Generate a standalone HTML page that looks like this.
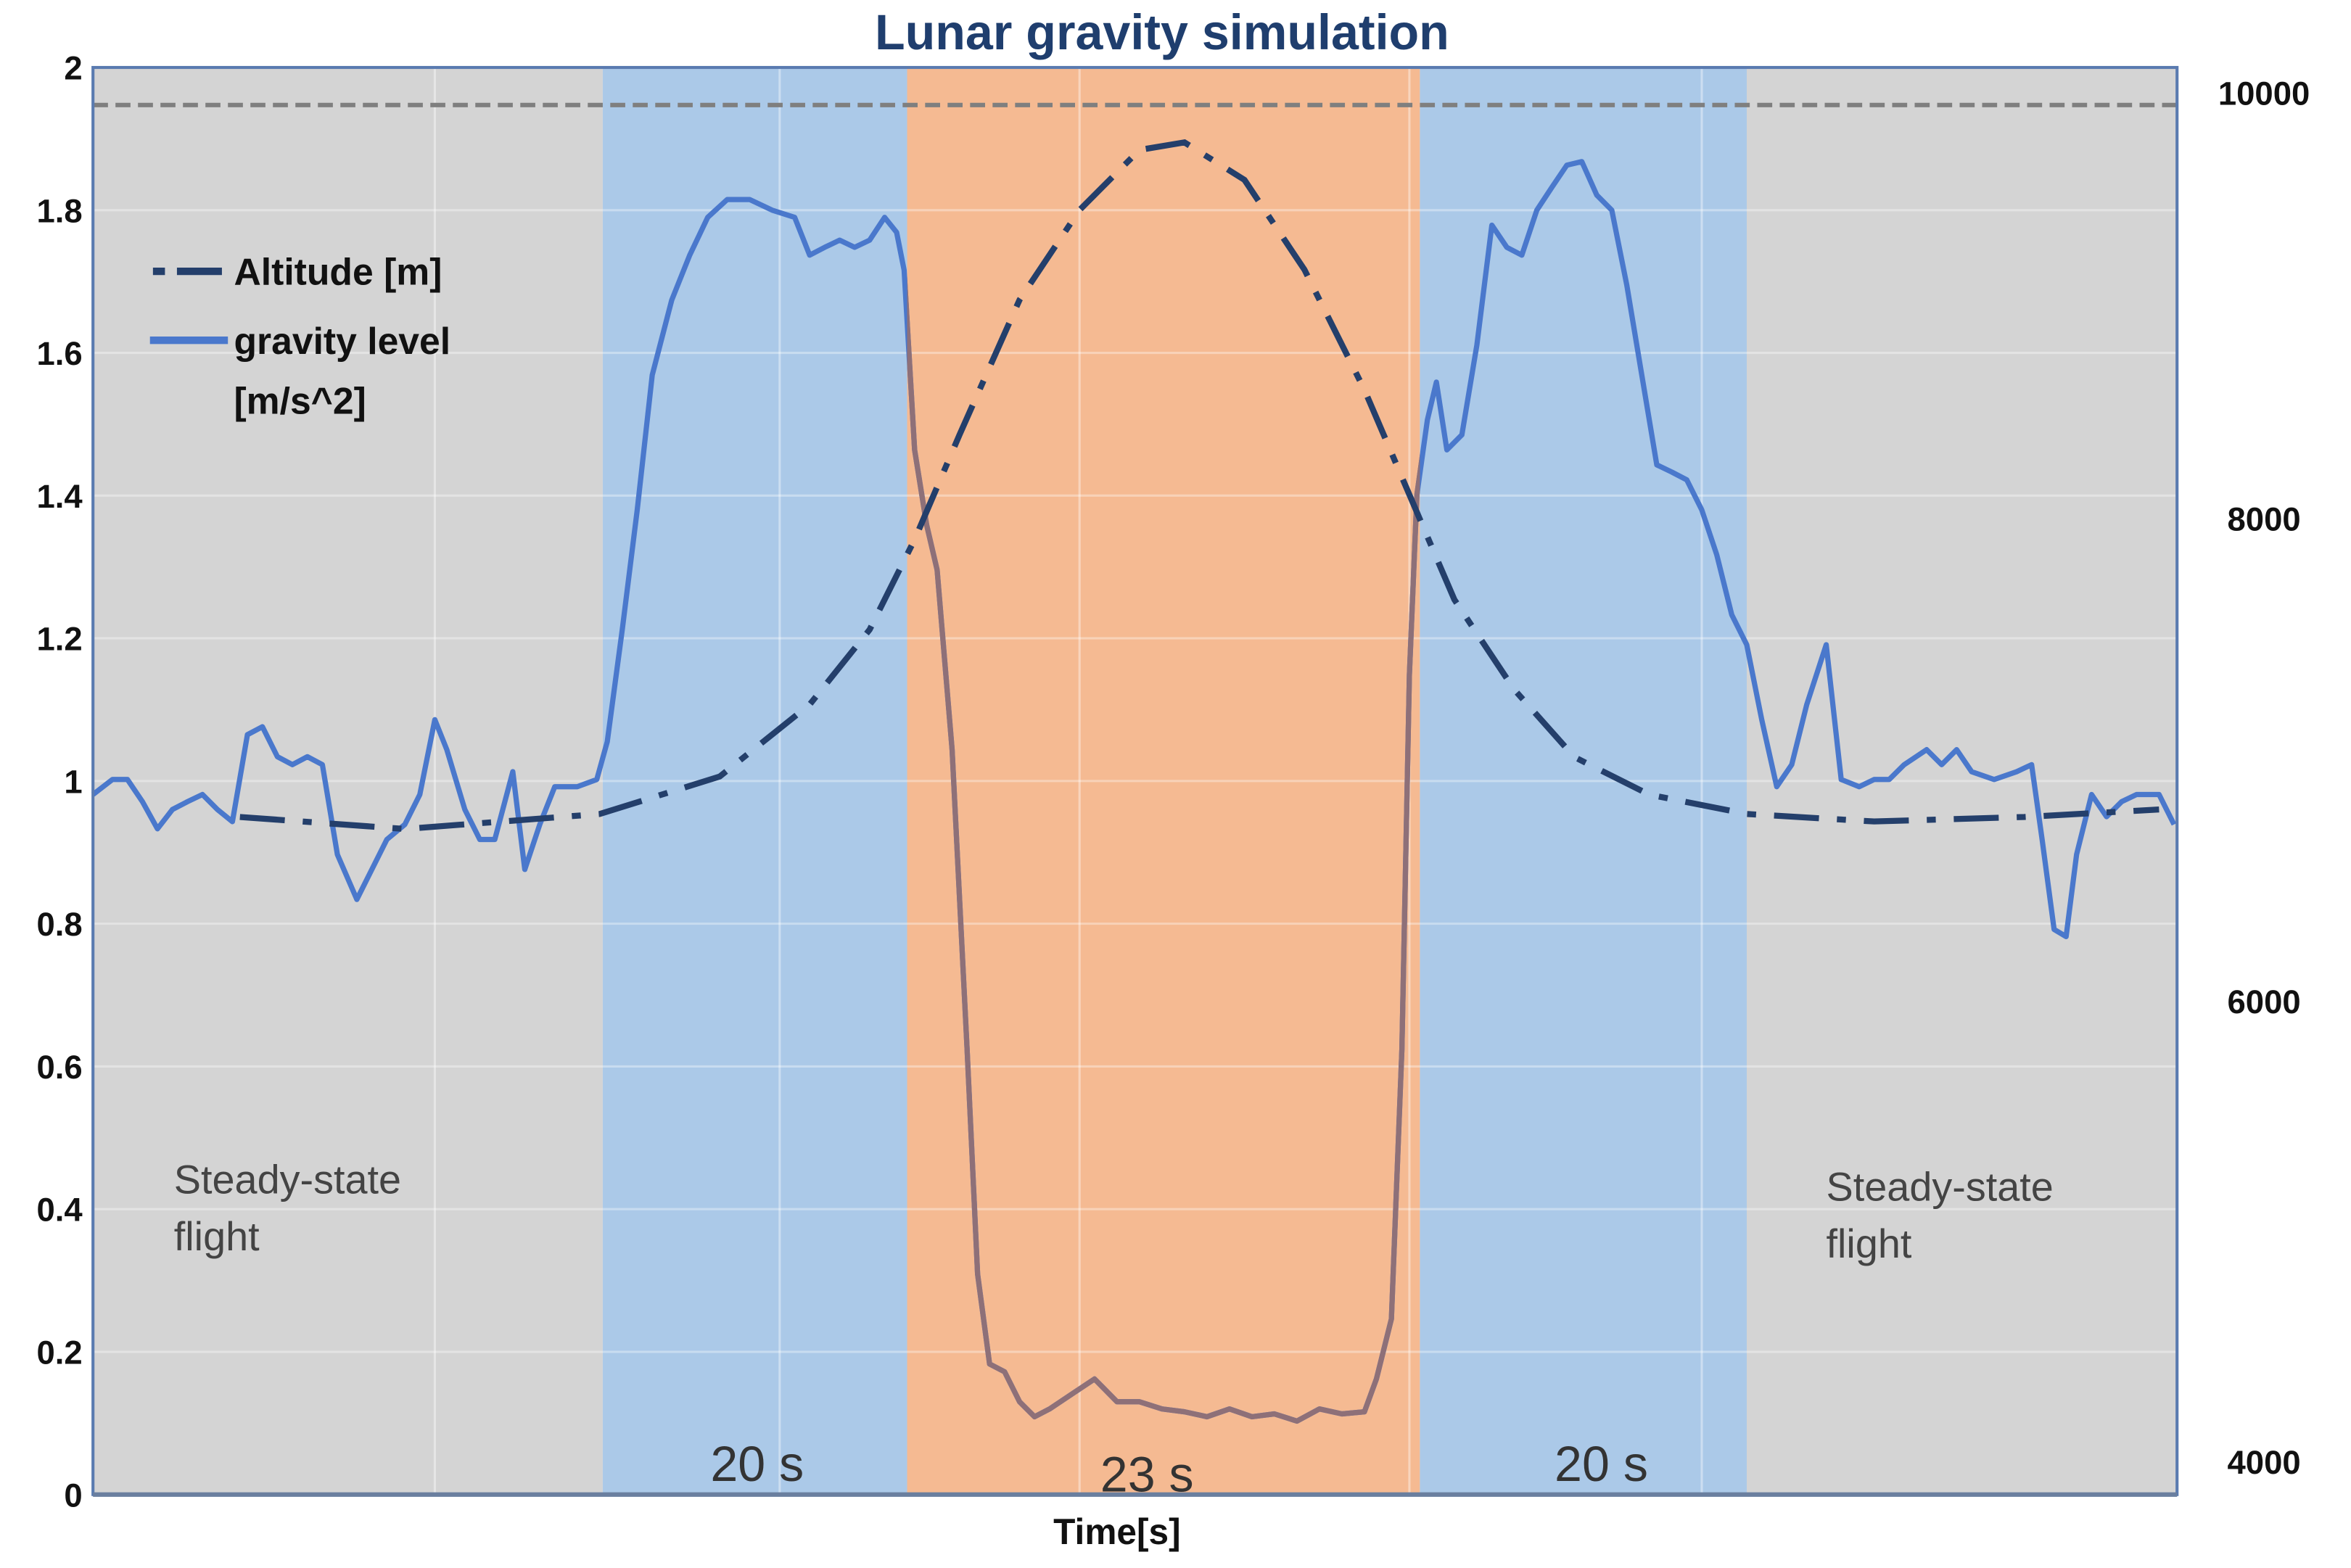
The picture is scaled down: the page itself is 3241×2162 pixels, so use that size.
<!DOCTYPE html>
<html><head><meta charset="utf-8">
<style>
html,body{margin:0;padding:0;background:#fff;}
svg{display:block;font-family:"Liberation Sans",sans-serif;}
</style></head>
<body>
<svg id="chart" width="3241" height="2162" viewBox="0 0 1568 1046" xmlns="http://www.w3.org/2000/svg">
<g id="bg"></g>
<g id="grid"></g>
<g id="series"></g>
<g id="axes"></g>
<text x="775" y="33" text-anchor="middle" font-size="33" font-weight="bold" fill="#1f3e6e">Lunar gravity simulation</text>
<text x="745" y="1030" text-anchor="middle" font-size="24" font-weight="bold" fill="#111">Time[s]</text>
<g>
  <line x1="102" y1="181" x2="152" y2="181" stroke="#243f6b" stroke-width="5" stroke-dasharray="8 8 22 0"/>
  <text x="156" y="190" font-size="25" font-weight="bold" fill="#111">Altitude [m]</text>
  <line x1="100" y1="227" x2="152" y2="227" stroke="#4a78cc" stroke-width="5"/>
  <text x="156" y="236" font-size="25" font-weight="bold" fill="#111">gravity level</text>
  <text x="156" y="276" font-size="25" font-weight="bold" fill="#111">[m/s^2]</text>
</g>
<text font-size="27" fill="#444"><tspan x="116" y="796">Steady-state</tspan><tspan x="116" y="834">flight</tspan></text>
<text font-size="27" fill="#444"><tspan x="1218" y="801">Steady-state</tspan><tspan x="1218" y="839">flight</tspan></text>
<text x="505" y="988" text-anchor="middle" font-size="33" fill="#333">20 s</text>
<text x="765" y="995" text-anchor="middle" font-size="33" fill="#333">23 s</text>
<text x="1068" y="988" text-anchor="middle" font-size="33" fill="#333">20 s</text>
</svg>
<script>
const phaseStarts = [0, 34, 54.3, 88.5, 110.3];
const phaseEnds   = [34, 54.3, 88.5, 110.3, 139];
const phaseKinds  = ['steady', 'pull', 'micro', 'pull', 'steady'];
const gTicks = [0, 0.2, 0.4, 0.6, 0.8, 1, 1.2, 1.4, 1.6, 1.8, 2];
const gTickLabels = ['0','0.2','0.4','0.6','0.8','1','1.2','1.4','1.6','1.8','2'];
const altTicks = [10000, 8000, 6000, 4000];
const altTickPos = [62, 346, 668, 975];
const altRefLine = 9947;
const gravT = [0,1.3,2.3,3.3,4.3,5.3,6.3,7.3,8.3,9.3,10.3,11.3,12.3,13.3,14.3,15.3,16.3,17.6,18.6,19.6,20.8,21.8,22.8,23.6,24.8,25.8,26.8,28,28.8,29.8,30.8,32.3,33.6,34.3,35.3,36.3,37.3,38.6,39.8,41,42.3,43.8,45.3,46.8,47.8,48.8,49.8,50.8,51.8,52.8,53.6,54.1,54.8,55.6,56.3,57.3,58.3,59,59.8,60.8,61.8,62.8,63.8,65.3,66.8,68.3,69.8,71.3,72.8,74.3,75.8,77.3,78.8,80.3,81.8,83.3,84.8,85.6,86.6,87.3,87.8,88.3,89,89.6,90.3,91.3,92.3,93.3,94.3,95.3,96.3,97.3,98.3,99.3,100.3,101.3,102.3,103.3,104.3,105.3,106.3,107.3,108.3,109.3,110.3,111.3,112.3,113.3,114.3,115.6,116.6,117.8,118.8,119.8,120.8,122.3,123.3,124.3,125.3,126.8,128.3,129.3,130,130.8,131.6,132.3,133.3,134.3,135.3,136.3,137.8,138.8];
const gravV = [0.981,1.002,1.002,0.971,0.933,0.960,0.971,0.981,0.960,0.943,1.065,1.076,1.034,1.023,1.034,1.023,0.897,0.834,0.876,0.918,0.939,0.981,1.086,1.044,0.960,0.918,0.918,1.013,0.876,0.939,0.992,0.992,1.002,1.055,1.212,1.380,1.569,1.674,1.737,1.790,1.815,1.815,1.800,1.790,1.737,1.748,1.758,1.748,1.758,1.790,1.769,1.716,1.464,1.359,1.296,1.044,0.624,0.309,0.183,0.172,0.130,0.109,0.120,0.141,0.162,0.130,0.130,0.120,0.116,0.109,0.120,0.109,0.113,0.103,0.120,0.113,0.116,0.162,0.246,0.624,1.149,1.401,1.506,1.559,1.464,1.485,1.611,1.779,1.748,1.737,1.800,1.832,1.863,1.868,1.821,1.800,1.695,1.569,1.443,1.433,1.422,1.380,1.317,1.233,1.191,1.086,0.992,1.023,1.107,1.191,1.002,0.992,1.002,1.002,1.023,1.044,1.023,1.044,1.013,1.002,1.013,1.023,0.918,0.792,0.782,0.897,0.981,0.950,0.971,0.981,0.981,0.939];
const altT = [9.8,20.8,33.8,41.8,47.8,51.8,54.8,57.8,61.8,65.8,69.8,72.8,76.8,80.8,84.8,87.8,90.8,94.8,98.8,103.8,110.3,118.8,128.8,137.8];
const altV = [6826,6773,6839,7003,7319,7647,8042,8502,9093,9487,9750,9783,9619,9225,8699,8239,7779,7384,7089,6924,6839,6806,6826,6859];

const X0=62, X1=1452, Y0=997, Y1=45;
const xs = t => X0 + (t/139)*(X1-X0);
const ys = v => Y0 - (v/2)*(Y0-Y1);
const ya = a => 62 + (10000-a)*(913/6000);
const NS='http://www.w3.org/2000/svg';
function mk(tag, parent, attrs){const e=document.createElementNS(NS,tag);for(const k in attrs)e.setAttribute(k,attrs[k]);parent.appendChild(e);return e;}
const bg=document.getElementById('bg'), grid=document.getElementById('grid'), ser=document.getElementById('series'), axes=document.getElementById('axes');
const colors={steady:'#d4d4d4',pull:'#abc9e8',micro:'#f5ba92'};
phaseStarts.forEach((s,i)=>{
  const r=mk('rect',bg,{x:xs(s),y:Y1,width:xs(phaseEnds[i])-xs(s),height:Y0-Y1,fill:colors[phaseKinds[i]]});
  
  
});
gTicks.forEach((v,i)=>{
  if(v>0&&v<2){const l=mk('line',grid,{x1:X0,x2:X1,y1:ys(v),y2:ys(v),stroke:'#ffffff','stroke-opacity':0.35,'stroke-width':1.5});
  
  }
  const t=mk('text',axes,{x:55,y:ys(v)+8,'text-anchor':'end','font-size':22,'font-weight':'bold',fill:'#111'});
  t.textContent=gTickLabels[i];
  
  
});
[22.8,45.8,65.8,87.8,107.3].forEach(t=>{
  const l=mk('line',grid,{x1:xs(t),x2:xs(t),y1:Y1,y2:Y0,stroke:'#ffffff','stroke-opacity':0.4,'stroke-width':1.5});
  
  
});
altTicks.forEach((a,i)=>{
  const t=mk('text',axes,{x:1510,y:altTickPos[i]+8,'text-anchor':'middle','font-size':22,'font-weight':'bold',fill:'#111'});
  t.textContent=String(a);
  
  
});
const ref=mk('line',ser,{x1:X0,x2:X1,y1:ya(altRefLine),y2:ya(altRefLine),stroke:'#7f7f7f','stroke-width':3,'stroke-dasharray':'10 5'});


const gp=gravT.map((t,i)=>xs(t).toFixed(1)+','+ys(gravV[i]).toFixed(1)).join(' ');
const g1=mk('polyline',ser,{points:gp,fill:'none',stroke:'#4a78cc','stroke-width':3.5,'stroke-linejoin':'round'});


mk('clipPath',ser,{id:'microclip'}).appendChild(document.createElementNS(NS,'rect'));
const cr=document.querySelector('#microclip rect');cr.setAttribute('x',xs(phaseStarts[2]));cr.setAttribute('y',Y1);cr.setAttribute('width',xs(phaseEnds[2])-xs(phaseStarts[2]));cr.setAttribute('height',Y0-Y1);
const g2=mk('polyline',ser,{points:gp,fill:'none',stroke:'#8e7078','stroke-width':3.5,'stroke-linejoin':'round','clip-path':'url(#microclip)'});


const ap=altT.map((t,i)=>xs(t).toFixed(1)+','+ya(altV[i]).toFixed(1)).join(' ');
const al=mk('polyline',ser,{points:ap,fill:'none',stroke:'#243f6b','stroke-width':4,'stroke-dasharray':'30 12 6 12'});


const fr=mk('rect',axes,{x:X0,y:Y1,width:X1-X0,height:Y0-Y1,fill:'none',stroke:'#5a7bb0','stroke-width':2});


const xa=mk('line',axes,{x1:X0,x2:X1,y1:Y0,y2:Y0,stroke:'#6a7f9f','stroke-width':3});


</script>
</body></html>
